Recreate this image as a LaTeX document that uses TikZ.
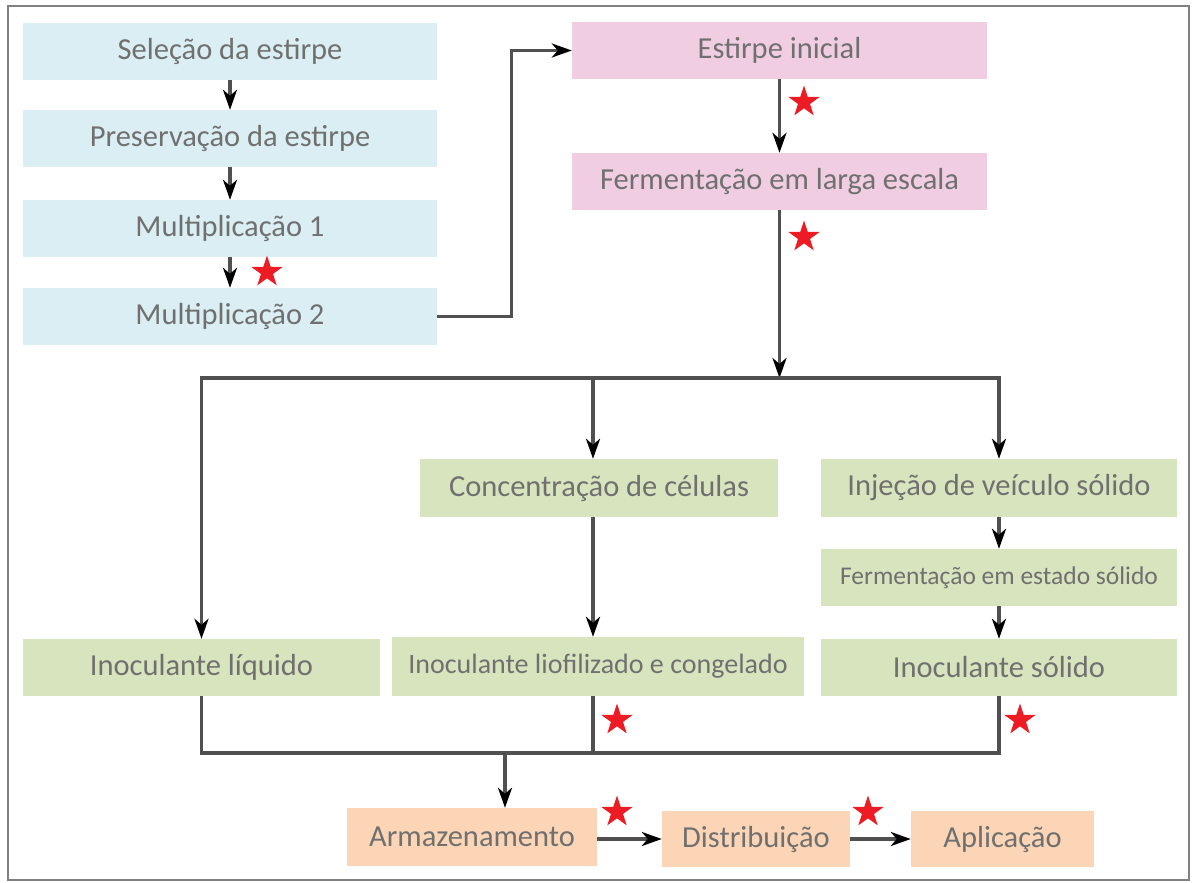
\documentclass[tikz,border=0pt]{standalone}
\usepackage{fontspec}
\setmainfont{Carlito}
\usepackage{xcolor}
\usetikzlibrary{shapes.geometric, arrows.meta, positioning}

\definecolor{boxblue}{RGB}{218,238,243}
\definecolor{boxpink}{RGB}{240,205,225}
\definecolor{boxgreen}{RGB}{215,228,189}
\definecolor{boxorange}{RGB}{251,213,181}
\definecolor{txtgray}{RGB}{112,112,112}
\definecolor{linegray}{RGB}{80,80,80}
\definecolor{framegray}{RGB}{128,128,128}
\definecolor{starred}{RGB}{237,28,36}

\begin{document}
\begin{tikzpicture}[x=1pt, y=-1pt,
        box/.style={rectangle, minimum height=57pt, inner sep=0pt, text=txtgray, font=\fontsize{30.5}{36}\selectfont},
        arrow/.style={draw=linegray, line width=3.4pt, -{Stealth[length=20pt, width=14pt, inset=6pt, color=black]}},
        link/.style={draw=linegray, line width=3.4pt},
        redstar/.style={star, star points=5, star point ratio=2.6, fill=starred, minimum size=33pt, inner sep=0pt}
    ]
    \useasboundingbox (0,0) rectangle (1192,883);
    \draw[framegray, line width=2.4pt] (8,6) rectangle (1189,880);

    % strain line
    \node[box, fill=boxblue, minimum width=414pt] (Sel) at (230,51.5) {Seleção da estirpe};
    \node[box, fill=boxblue, minimum width=414pt] (Pres) at (230,138.5) {Preservação da estirpe};
    \node[box, fill=boxblue, minimum width=414pt] (Mul1) at (230,228.5) {Multiplicação 1};
    \node[box, fill=boxblue, minimum width=414pt] (Mul2) at (230,316.5) {Multiplicação 2};

    \node[box, fill=boxpink, minimum width=415pt] (Ini) at (779.5,50.5) {Estirpe inicial};
    \node[box, fill=boxpink, minimum width=415pt] (Fer) at (779.5,181.5) {Fermentação em larga escala};

    % formulations
    \node[box, fill=boxgreen, minimum width=358pt, minimum height=58pt] (Con) at (599,488) {Concentração de células};
    \node[box, fill=boxgreen, minimum width=357pt] (Liq) at (201.5,667.5) {Inoculante líquido};
    \node[box, fill=boxgreen, minimum width=412pt, minimum height=59pt, font=\fontsize{28}{33}\selectfont] (Lio) at (598,666.5) {Inoculante liofilizado e congelado};
    \node[box, fill=boxgreen, minimum width=356pt, minimum height=58pt] (Inj) at (999,488) {Injeção de veículo sólido};
    \node[box, fill=boxgreen, minimum width=356pt, font=\fontsize{25.5}{30}\selectfont] (Fes) at (999,577.5) {Fermentação em estado sólido};
    \node[box, fill=boxgreen, minimum width=356pt] (Sol) at (999,667.5) {Inoculante sólido};

    % last steps
    \node[box, fill=boxorange, minimum width=250pt, minimum height=58pt] (Arm) at (472,837) {Armazenamento};
    \node[box, fill=boxorange, minimum width=188pt, minimum height=56pt] (Dis) at (756,839) {Distribuição};
    \node[box, fill=boxorange, minimum width=183pt, minimum height=56pt] (Apl) at (1002.5,839) {Aplicação};

    \coordinate (hub) at (779.5,378);
    \coordinate (mid) at (593,378);
    \coordinate (bot) at (505,753);

    \draw[arrow] (Sel) -- (Pres);
    \draw[arrow] (Pres) -- (Mul1);
    \draw[arrow] (Mul1) -- (Mul2);
    \draw[arrow] (Mul2.east) -- ++(74,0) |- (Ini.west);
    \draw[arrow] (Ini) -- (Fer);
    \draw[arrow] (Fer) -- (hub);

    \draw[arrow] (hub) -| (Liq);
    \draw[arrow] (hub) -| (Inj);
    \draw[arrow] (mid) -- (mid |- Con.north);
    \draw[arrow] (mid |- Con.south) -- (mid |- Lio.north);
    \draw[arrow] (Inj) -- (Fes);
    \draw[arrow] (Fes) -- (Sol);

    \draw[link] (Liq.south) |- (Sol.south |- bot) -- (Sol.south);
    \draw[link] (mid |- Lio.south) -- (mid |- bot);
    \draw[arrow] (bot) -- (bot |- Arm.north);
    \draw[arrow] (Arm.east |- Dis.west) -- (Dis.west);
    \draw[arrow] (Dis) -- (Apl);

    % critical points
    \node[redstar] (s1) at (267,272) {};
    \node[redstar] (s2) at (804,102) {};
    \node[redstar] (s3) at (804,237) {};
    \node[redstar] (s4) at (617,720) {};
    \node[redstar] (s5) at (1020,720) {};
    \node[redstar] (s6) at (617,812) {};
    \node[redstar] (s7) at (868,812) {};
\end{tikzpicture}
\end{document}
